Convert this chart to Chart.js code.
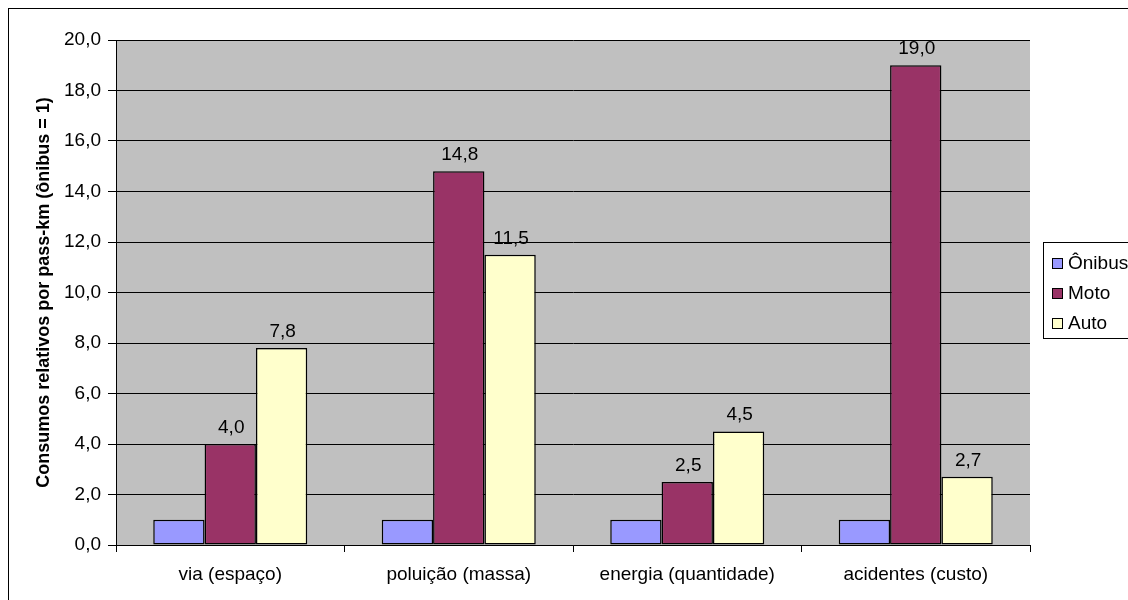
<!DOCTYPE html>
<html>
<head>
<meta charset="utf-8">
<script src="https://cdn.jsdelivr.net/npm/chart.js@4/dist/chart.umd.min.js"></script>
<style>
  html, body { margin: 0; padding: 0; background: #ffffff; }
  #wrap { width: 1128px; height: 600px; position: relative; }
</style>
</head>
<body>
<div id="wrap"><canvas id="c" width="1128" height="600"></canvas></div>
<script>
// Categories and series
const categories = ['via (espaço)', 'poluição (massa)', 'energia (quantidade)', 'acidentes (custo)'];
const onibus = [1.0, 1.0, 1.0, 1.0];
const moto = [4.0, 14.8, 2.5, 19.0];
const auto = [7.8, 11.5, 4.5, 2.7];
const seriesNames = ['Ônibus', 'Moto', 'Auto'];
const seriesColors = ['#9999FF', '#993366', '#FFFFCC'];
const yTitle = 'Consumos relativos por pass-km (ônibus = 1)';
const labeledSeries = [1, 2];

const FONT = '"Liberation Sans", Arial, sans-serif';
const FS = 19;
const fmt = v => v.toFixed(1).replace('.', ',');

// Grey plot background and outer frame
const framePlugin = {
  id: 'frame',
  beforeDraw(chart) {
    const { ctx, chartArea: a } = chart;
    ctx.save();
    ctx.fillStyle = '#ffffff';
    ctx.fillRect(0, 0, chart.width, chart.height);
    ctx.fillStyle = '#C0C0C0';
    ctx.fillRect(a.left, a.top, a.right - a.left, a.bottom - a.top);
    ctx.strokeStyle = '#000000';
    ctx.lineWidth = 1;
    ctx.strokeRect(8.5, 8.5, chart.width + 20, chart.height + 20);
    ctx.restore();
  }
};

// Value labels above the Moto and Auto bars
const valueLabels = {
  id: 'valueLabels',
  afterDatasetsDraw(chart) {
    const { ctx } = chart;
    ctx.save();
    ctx.font = FS + 'px ' + FONT;
    ctx.fillStyle = '#000000';
    ctx.textAlign = 'center';
    ctx.textBaseline = 'alphabetic';
    labeledSeries.forEach(di => {
      const meta = chart.getDatasetMeta(di);
      meta.data.forEach((bar, i) => {
        const v = chart.data.datasets[di].data[i];
        ctx.fillText(fmt(v), bar.x + 1, bar.y - 11);
      });
    });
    ctx.restore();
  }
};

// Boxed legend on the right
const sideLegend = {
  id: 'sideLegend',
  afterDraw(chart) {
    const { ctx } = chart;
    ctx.save();
    ctx.strokeStyle = '#000000';
    ctx.lineWidth = 1;
    ctx.fillStyle = '#ffffff';
    ctx.fillRect(1043.5, 242.5, 120, 96);
    ctx.strokeRect(1043.5, 242.5, 120, 96);
    ctx.font = FS + 'px ' + FONT;
    ctx.textBaseline = 'middle';
    ctx.textAlign = 'left';
    chart.data.datasets.forEach((ds, i) => {
      const y = 263 + i * 30;
      ctx.fillStyle = ds.backgroundColor;
      ctx.fillRect(1052.5, y - 4.5, 10, 10);
      ctx.strokeRect(1052.5, y - 4.5, 10, 10);
      ctx.fillStyle = '#000000';
      ctx.fillText(ds.label, 1068, y + 1);
    });
    ctx.restore();
  }
};

const mkSet = (i, data) => ({
  label: seriesNames[i],
  data: data,
  backgroundColor: seriesColors[i],
  borderColor: '#000000',
  borderWidth: 1.5,
  borderSkipped: false,
  categoryPercentage: 0.674,
  barPercentage: 1.0
});

new Chart(document.getElementById('c'), {
  type: 'bar',
  data: {
    labels: categories,
    datasets: [mkSet(0, onibus), mkSet(1, moto), mkSet(2, auto)]
  },
  options: {
    responsive: false,
    animation: false,
    devicePixelRatio: 1,
    layout: { padding: { left: 33, top: 40, right: 98, bottom: 0 } },
    plugins: { legend: { display: false }, tooltip: { enabled: false } },
    scales: {
      x: {
        grid: { drawOnChartArea: false, drawTicks: true, tickLength: 7, color: '#000000', offset: true },
        border: { color: '#000000', width: 1 },
        ticks: { color: '#000000', font: { family: FONT, size: FS }, padding: 11 },
        afterFit: s => { s.height = 55; }
      },
      y: {
        min: 0, max: 20,
        grid: { color: '#000000', lineWidth: 1, tickLength: 8 },
        border: { color: '#000000', width: 1 },
        ticks: { stepSize: 2, color: '#000000', font: { family: FONT, size: FS }, padding: 7,
                 callback: v => fmt(v) },
        title: { display: true, text: yTitle, color: '#000000',
                 font: { family: FONT, size: 18, weight: 'bold' }, padding: { top: 0, bottom: 0 } },
        afterFit: s => { s.width = 83; }
      }
    }
  },
  plugins: [framePlugin, valueLabels, sideLegend]
});
</script>
</body>
</html>
